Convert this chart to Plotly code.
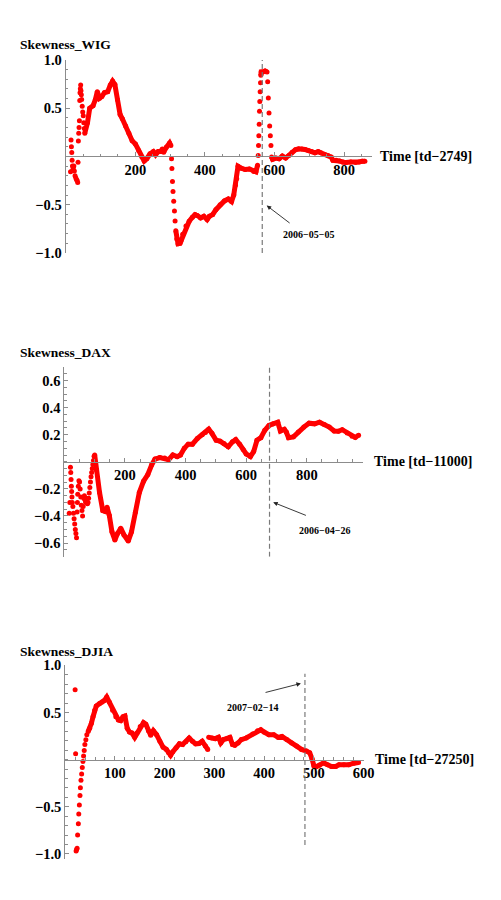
import plotly.graph_objects as go

# ---------------- data ----------------
# Skewness_WIG : early scattered points, then main series
wig_head_x = [14, 15.5, 16.5, 17.5, 18.5, 19.5, 20.5, 22, 23.5, 25, 27, 29, 31, 33, 34.6,
              35.5, 36.5, 37.5, 38.5, 39.5, 40.5, 41.2, 42.2, 43.1, 44, 45, 46, 47.5, 49,
              50.6, 52, 53.5]
wig_head_y = [-0.16, 0.17, 0.10, 0.04, -0.04, -0.10, -0.14, -0.12, -0.10, -0.15, -0.20, -0.22,
              -0.24, -0.25, -0.27, -0.06, 0.16, 0.24, 0.30, 0.37, 0.58, 0.66, 0.70, 0.74, 0.68,
              0.64, 0.59, 0.52, 0.46, 0.42, 0.35, 0.29]
wig_x = [55, 62.7, 69.2, 78.7, 85.2, 90.9, 97.4, 104, 111.4, 120.8, 128.3, 134.8, 141.4, 148.9,
         156.4, 162.9, 172.3, 181.7, 191, 200.4, 209.8, 219.1, 225.7, 233.1, 242.5, 252, 258.4,
         265.9, 272.5, 278, 281.8, 289.3, 298.7, 302.4, 304.3, 305.3, 307, 308.5, 310.5, 312.7,
         314.5, 316.5, 319.3, 323, 328.7, 331.5, 336.3, 345.7, 355, 364.3, 371.9, 378.4, 387.8,
         397.1, 406.5, 413.1, 422.5, 431.8, 443.9, 456.2, 467.5, 476.8, 483.1, 488, 491.6, 495.3,
         504.7, 516, 528, 540.5, 546.9, 551.5, 553.4, 554.3, 555.2, 556.2, 557.1, 558, 559, 560,
         561, 562, 566.5, 573, 578.8, 580.6, 582.5, 584.4, 586.3, 588.2, 590, 591.9, 594.7, 604,
         613.4, 622.8, 632.2, 641.5, 650.9, 660.2, 669.6, 679, 688.3, 697.7, 707, 716.4, 725.8,
         733.3, 744.6, 753.9, 763.3, 768, 777.4, 786.7, 796.1, 805.4, 819.5, 833.5, 842.9, 852.3,
         860]
wig_y = [0.24, 0.35, 0.50, 0.525, 0.586, 0.671, 0.603, 0.62, 0.66, 0.67, 0.74, 0.78, 0.745, 0.586,
         0.434, 0.39, 0.315, 0.24, 0.163, 0.129, 0.061, -0.007, -0.047, -0.024, 0.027, 0.05, 0.017,
         0.05, 0.05, 0.078, 0.044, 0.095, 0.139, 0.112, -0.024, -0.125, -0.26, -0.363, -0.464,
         -0.566, -0.668, -0.77, -0.855, -0.905, -0.90, -0.875, -0.807, -0.722, -0.671, -0.63,
         -0.603, -0.613, -0.637, -0.62, -0.654, -0.62, -0.603, -0.552, -0.502, -0.461, -0.441,
         -0.468, -0.40, -0.298, -0.231, -0.102, -0.122, -0.136, -0.13, -0.156, -0.159, -0.091,
         0.01, 0.112, 0.214, 0.332, 0.468, 0.57, 0.671, 0.763, 0.841, 0.875, 0.875, 0.885, 0.875,
         0.773, 0.604, 0.451, 0.315, 0.214, 0.112, -0.007, -0.03, -0.017, -0.024, 0.003, -0.017,
         0.01, 0.044, 0.068, 0.078, 0.078, 0.071, 0.061, 0.05, 0.037, 0.05, 0.037, 0.02, 0.01,
         -0.007, -0.041, -0.041, -0.047, -0.058, -0.064, -0.058, -0.064, -0.058, -0.051, -0.05]

# Skewness_DAX
dax_head_x = [16, 18, 20, 21, 22, 23, 24, 25, 26, 28, 30, 32, 34, 36, 38, 40, 42, 43, 44, 46, 48,
              50, 52, 54, 56, 58, 60, 62, 64, 66, 68, 70, 72, 74, 76, 78, 80, 82, 84, 86, 88, 90,
              92, 94, 96, 98]
dax_head_y = [-0.38, -0.30, -0.04, -0.08, -0.13, -0.18, -0.22, -0.26, -0.30, -0.33, -0.38, -0.42,
              -0.46, -0.50, -0.53, -0.56, -0.37, -0.30, -0.24, -0.18, -0.14, -0.15, -0.20, -0.26,
              -0.32, -0.36, -0.40, -0.33, -0.27, -0.25, -0.28, -0.30, -0.27, -0.29, -0.31, -0.30,
              -0.27, -0.23, -0.19, -0.15, -0.11, -0.08, -0.05, -0.02, 0.01, 0.04]
dax_x = [100, 105, 116, 126.7, 135.4, 140.8, 148.3, 157, 166.6, 175.2, 185.9, 196.7, 210.7, 221.5,
         234.4, 247.3, 261.3, 275.3, 288.2, 299, 315, 331, 344, 358, 372, 383, 395.6, 408.5, 422.5,
         438.6, 454.8, 465.5, 476.3, 487, 500.9, 513.8, 526.7, 540.7, 554.7, 565.5, 578.4, 590, 600,
         613.9, 624.6, 635.5, 648.4, 661.3, 675.2, 689, 704.2, 712.9, 725.8, 732.3, 739.7, 755.8,
         772, 790.3, 807.4, 825.8, 841.9, 858, 874.2, 890.3, 904.2, 917, 933.2, 949.4, 960, 971]
dax_y = [0.05, -0.058, -0.227, -0.36, -0.367, -0.336, -0.396, -0.517, -0.577, -0.53, -0.49, -0.54,
         -0.585, -0.517, -0.372, -0.227, -0.143, -0.094, -0.022, 0.02, 0.031, 0.027, 0.015, 0.05,
         0.038, 0.05, 0.099, 0.13, 0.13, 0.171, 0.20, 0.217, 0.241, 0.21, 0.159, 0.152, 0.135,
         0.111, 0.147, 0.164, 0.13, 0.09, 0.058, 0.039, 0.075, 0.159, 0.178, 0.232, 0.268, 0.28,
         0.292, 0.227, 0.24, 0.22, 0.178, 0.184, 0.22, 0.256, 0.285, 0.28, 0.292, 0.275, 0.256,
         0.227, 0.225, 0.237, 0.213, 0.189, 0.18, 0.196]

# Skewness_DJIA
djia_head_x = [20, 21, 22, 23, 24, 25, 26.5, 27.3, 28.5, 29.8, 30.6, 31.8, 33.1, 34.4, 35.7, 37,
               38.3, 39.6, 41.6, 43.5]
djia_head_y = [0.74, 0.062, -0.969, -0.955, -0.94, -0.80, -0.68, -0.576, -0.483, -0.38, -0.30,
               -0.22, -0.153, -0.083, -0.021, 0.038, 0.097, 0.159, 0.21, 0.264]
djia_x = [46.2, 49.4, 52.7, 56, 59.3, 62.5, 69.1, 74.3, 78.9, 83.5, 88.7, 95.3, 101.8, 107, 111.6,
          116.2, 120.1, 124.7, 129.3, 134.5, 139.8, 144.4, 150.9, 157.5, 162.1, 167.3, 171.9,
          177.2, 183.7, 190.3, 196.8, 203.4, 208, 211.9, 216.5, 223, 229.6, 236.1, 242.7, 249.2,
          255.8, 262.3, 268.9, 275.4, 282, 286.6, 288.5, 295, 301.6, 308.2, 312.8, 318, 324.6,
          331.1, 336.4, 341, 347.6, 354.1, 363.8, 376.9, 386.7, 393.3, 399.8, 409.6, 419.4, 428,
          435.8, 445.6, 455.4, 465.3, 475.1, 484.9, 491.5, 496.1, 500, 504.6, 511.2, 519.6, 527.5,
          535.4, 543.8, 550.5, 560.3, 570.1, 580, 589.8]
djia_y = [0.298, 0.333, 0.385, 0.455, 0.524, 0.569, 0.594, 0.611, 0.628, 0.663, 0.611, 0.524,
          0.455, 0.42, 0.413, 0.455, 0.462, 0.333, 0.292, 0.281, 0.236, 0.281, 0.35, 0.392, 0.375,
          0.306, 0.257, 0.306, 0.264, 0.195, 0.132, 0.108, 0.073, 0.045, 0.083, 0.125, 0.167, 0.16,
          0.188, 0.229, 0.195, 0.167, 0.17, 0.195, 0.143, 0.108, 0.236, 0.229, 0.222, 0.236, 0.177,
          0.212, 0.222, 0.236, 0.16, 0.153, 0.177, 0.212, 0.229, 0.271, 0.306, 0.316, 0.292, 0.264,
          0.264, 0.236, 0.246, 0.212, 0.177, 0.143, 0.108, 0.090, 0.073, 0.010, -0.066, -0.076,
          -0.059, -0.035, -0.055, -0.073, -0.073, -0.055, -0.055, -0.055, -0.038, -0.031]

# tick labels
wig_xticks = [200, 400, 600, 800]
wig_yticks = [-1.0, -0.5, 0.5, 1.0]
wig_yticktext = ["\u22121.0", "\u22120.5", "0.5", "1.0"]
dax_xticks = [200, 400, 600, 800]
dax_yticks = [-0.6, -0.4, -0.2, 0.2, 0.4, 0.6]
dax_yticktext = ["\u22120.6", "\u22120.4", "\u22120.2", "0.2", "0.4", "0.6"]
djia_xticks = [100, 200, 300, 400, 500, 600]
djia_yticks = [-1.0, -0.5, 0.5, 1.0]
djia_yticktext = ["\u22121.0", "\u22120.5", "0.5", "1.0"]

# event markers (x position of the dashed line) and their dates
wig_event_x = 565
dax_event_x = 677
djia_event_x = 482
wig_event_date = "2006\u221205\u221205"
dax_event_date = "2006\u221204\u221226"
djia_event_date = "2007\u221202\u221214"

# ---------------- layout ----------------
# The page keeps the browser's default 8px body margin, so the figure is
# sized to fill the 501x900 window exactly inside that margin.
PAGE_W, PAGE_H, BODY_M = 501, 900, 8
W, H = PAGE_W - 2 * BODY_M, PAGE_H - 2 * BODY_M
RED = "#ff0000"
AX = "#8c8c8c"
FONT = "Liberation Serif"


def fx(px):
    return (px - BODY_M) / W


def fy(py):
    return 1 - (py - BODY_M) / H


panels = [
    dict(hx=wig_head_x, hy=wig_head_y, mx=wig_x, my=wig_y,
         xr=[0, 880], yr=[-1.0, 1.0], box=(67, 380.3, 52.7, 249.3),
         xt=wig_xticks, yt=wig_yticks, ytt=wig_yticktext, xmin=50, ymin=0.1,
         title="Skewness_WIG", title_py=37, xlab="Time [td\u22122749]", xlab_px=387,
         vx=wig_event_x, vy=(-1.0, 1.0),
         arrow=(577.8, -0.509, 648, -0.702), date=wig_event_date, date_xy=(696.6, -0.814)),
    dict(hx=dax_head_x, hy=dax_head_y, mx=dax_x, my=dax_y,
         xr=[0, 987], yr=[-0.7, 0.7], box=(65.7, 371.7, 365.4, 558.6),
         xt=dax_xticks, yt=dax_yticks, ytt=dax_yticktext, xmin=50, ymin=0.05,
         title="Skewness_DAX", title_py=350.7, xlab="Time [td\u221211000]", xlab_px=380.5,
         vx=dax_event_x, vy=(-0.7, 0.7),
         arrow=(689, -0.299, 802, -0.40), date=dax_event_date, date_xy=(860, -0.505)),
    dict(hx=djia_head_x, hy=djia_head_y, mx=djia_x, my=djia_y,
         xr=[0, 600], yr=[-1.05, 1.0], box=(66.5, 371.9, 669.3, 866.1),
         xt=djia_xticks, yt=djia_yticks, ytt=djia_yticktext, xmin=20, ymin=0.1,
         title="Skewness_DJIA", title_py=655, xlab="Time [td\u221227250]", xlab_px=381,
         vx=djia_event_x, vy=(-0.905, 0.91),
         arrow=(473.9, 0.808, 399.8, 0.708), date=djia_event_date, date_xy=(376.8, 0.552)),
]

fig = go.Figure()
layout = dict(width=W, height=H, margin=dict(l=0, r=0, t=0, b=0),
              paper_bgcolor="white", plot_bgcolor="white", showlegend=False)
shapes, annotations = [], []
tickfont = dict(family=FONT, size=14.5, color="black", weight="bold")
labelfont = dict(family=FONT, size=14, color="black", weight="bold")
titlefont = dict(family=FONT, size=13.5, color="black", weight="bold")

for i, p in enumerate(panels, start=1):
    sfx = "" if i == 1 else str(i)
    xa, ya = "x" + sfx, "y" + sfx
    L, R, T, B = p["box"]
    y0, y1 = p["yr"]
    dom_y = [fy(B), fy(T)]
    zero_pos = dom_y[0] + (0 - y0) / (y1 - y0) * (dom_y[1] - dom_y[0])
    px_per_y = (B - T) / (y1 - y0)

    # line through the densely sampled parts; break where points are visibly separate
    lx, ly = [], []
    for k, (xv, yv) in enumerate(zip(p["mx"], p["my"])):
        if k > 0:
            dx = xv - p["mx"][k - 1]
            dy = abs(yv - p["my"][k - 1])
            if dy * px_per_y / max(dx, 1e-9) > 4.0:
                lx.append(None)
                ly.append(None)
        lx.append(xv)
        ly.append(yv)
    fig.add_trace(go.Scatter(x=lx, y=ly, mode="lines", xaxis=xa, yaxis=ya,
                             line=dict(color=RED, width=5), connectgaps=False,
                             hoverinfo="skip"))
    fig.add_trace(go.Scatter(x=p["hx"] + p["mx"], y=p["hy"] + p["my"], mode="markers",
                             xaxis=xa, yaxis=ya,
                             marker=dict(color=RED, size=5, line=dict(width=0))))

    layout["xaxis" + sfx] = dict(
        domain=[fx(L), fx(R)], range=p["xr"], anchor="free", position=zero_pos,
        showline=True, linecolor=AX, linewidth=1, showgrid=False, zeroline=False,
        ticks="inside", ticklen=4, tickcolor=AX, tickwidth=1,
        tickmode="array", tickvals=p["xt"], ticktext=[str(v) for v in p["xt"]],
        tickfont=tickfont,
        minor=dict(tickmode="linear", tick0=0, dtick=p["xmin"], ticks="inside",
                   ticklen=2.5, tickcolor=AX, showgrid=False),
        fixedrange=True)
    layout["yaxis" + sfx] = dict(
        domain=dom_y, range=p["yr"], anchor=xa, side="left",
        showline=True, linecolor=AX, linewidth=1, showgrid=False, zeroline=False,
        ticks="inside", ticklen=4, tickcolor=AX, tickwidth=1,
        tickmode="array", tickvals=p["yt"], ticktext=p["ytt"], tickfont=tickfont,
        minor=dict(tickmode="linear", tick0=0, dtick=p["ymin"], ticks="inside",
                   ticklen=2.5, tickcolor=AX, showgrid=False),
        fixedrange=True)

    shapes.append(dict(type="line", xref=xa, yref=ya, x0=p["vx"], x1=p["vx"],
                       y0=p["vy"][0], y1=p["vy"][1],
                       line=dict(color="#7a7a7a", width=1.2, dash="5px,3px")))

    annotations.append(dict(text=p["title"], xref="paper", yref="paper",
                            x=fx(18), y=fy(p["title_py"]), xanchor="left", yanchor="middle",
                            showarrow=False, font=titlefont))
    annotations.append(dict(text=p["xlab"], xref="paper", yref="paper",
                            x=fx(p["xlab_px"]), y=zero_pos, xanchor="left", yanchor="middle",
                            showarrow=False, font=labelfont))
    hx_, hy_, tx_, ty_ = p["arrow"]
    annotations.append(dict(text="", x=hx_, y=hy_, xref=xa, yref=ya,
                            ax=tx_, ay=ty_, axref=xa, ayref=ya, showarrow=True,
                            arrowhead=2, arrowsize=1, arrowwidth=0.9, arrowcolor="#222222",
                            standoff=0, startstandoff=0))
    annotations.append(dict(text=p["date"], x=p["date_xy"][0], y=p["date_xy"][1],
                            xref=xa, yref=ya, xanchor="center", yanchor="middle",
                            showarrow=False,
                            font=dict(family=FONT, size=10, color="black", weight="bold")))

layout["shapes"] = shapes
layout["annotations"] = annotations
fig.update_layout(**layout)

fig.write_html("out.html", config={"displayModeBar": False})
